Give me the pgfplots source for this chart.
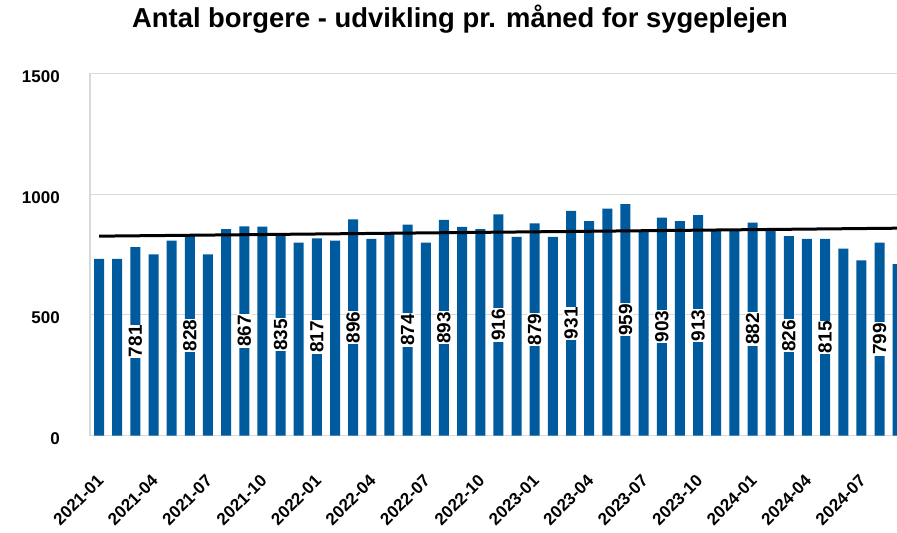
\documentclass[border=0pt]{standalone}
\usepackage{pgfplots}
\pgfplotsset{compat=1.18}
\usepackage{pgfplotstable}
\usepackage{fontspec}
\setmainfont{Liberation Sans}
\definecolor{barblue}{HTML}{005A9E}
\definecolor{gridgray}{HTML}{D9D9D9}

\pgfplotstableread{
x y lab
0 732 0
1 732 0
2 781 1
3 750 0
4 807 0
5 828 1
6 750 0
7 855 0
8 867 1
9 866 0
10 835 1
11 799 0
12 817 1
13 807 0
14 896 1
15 815 0
16 839 0
17 874 1
18 799 0
19 893 1
20 864 0
21 855 0
22 916 1
23 823 0
24 879 1
25 823 0
26 931 1
27 888 0
28 940 0
29 959 1
30 847 0
31 903 1
32 888 0
33 913 1
34 847 0
35 847 0
36 882 1
37 847 0
38 826 1
39 815 0
40 815 1
41 774 0
42 726 0
43 799 1
44 710 0
}\datatable

\begin{document}
\begin{tikzpicture}
\useasboundingbox (0,0) rectangle (897bp,533bp);
\begin{axis}[
  at={(90bp,97.5bp)}, anchor=south west,
  scale only axis, width=807bp, height=362bp,
  xmin=-0.5, xmax=43.96, ymin=0, ymax=1500,
  ytick={0,500,1000,1500},
  xtick={0,3,...,42},
  xticklabels={2021-01,2021-04,2021-07,2021-10,2022-01,2022-04,2022-07,2022-10,2023-01,2023-04,2023-07,2023-10,2024-01,2024-04,2024-07},
  major tick length=0pt,
  axis x line*=bottom, axis y line*=left,
  axis line style={-, draw=gridgray, line width=1.2bp},
  ymajorgrids, grid style={draw=gridgray, line width=1.2bp},
  /pgf/number format/1000 sep={},
  /pgf/number format/assume math mode=true,
  ticklabel style={font=\bfseries\fontsize{17bp}{20bp}\selectfont},
  yticklabel style={anchor=east, inner sep=0pt, xshift=-30bp, yshift=-3bp},
  xticklabel style={yshift=-38bp, xshift=-3bp, anchor=north east, inner sep=0pt, rotate=45},
]
\addplot[ybar, bar width=10bp, bar shift=0pt, fill=barblue, draw=none] table[x=x, y=y] {\datatable};
\addplot[black, line width=3bp] coordinates {(0,826) (46,860.5)};
\addplot[draw=none, mark=none,
  restrict expr to domain={\thisrow{lab}}{1:1},
  point meta=\thisrow{y},
  nodes near coords,
  nodes near coords style={rotate=90, anchor=center, fill=white, inner sep=0.8bp, text=black, font=\bfseries\fontsize{19bp}{22bp}\selectfont}]
  table[x=x, y expr=\thisrow{y}/2] {\datatable};
\end{axis}
\node[font=\bfseries\fontsize{27.4bp}{31bp}\selectfont, anchor=base] at (460bp,505bp) {Antal borgere - udvikling pr. måned for sygeplejen};
\end{tikzpicture}
\end{document}
